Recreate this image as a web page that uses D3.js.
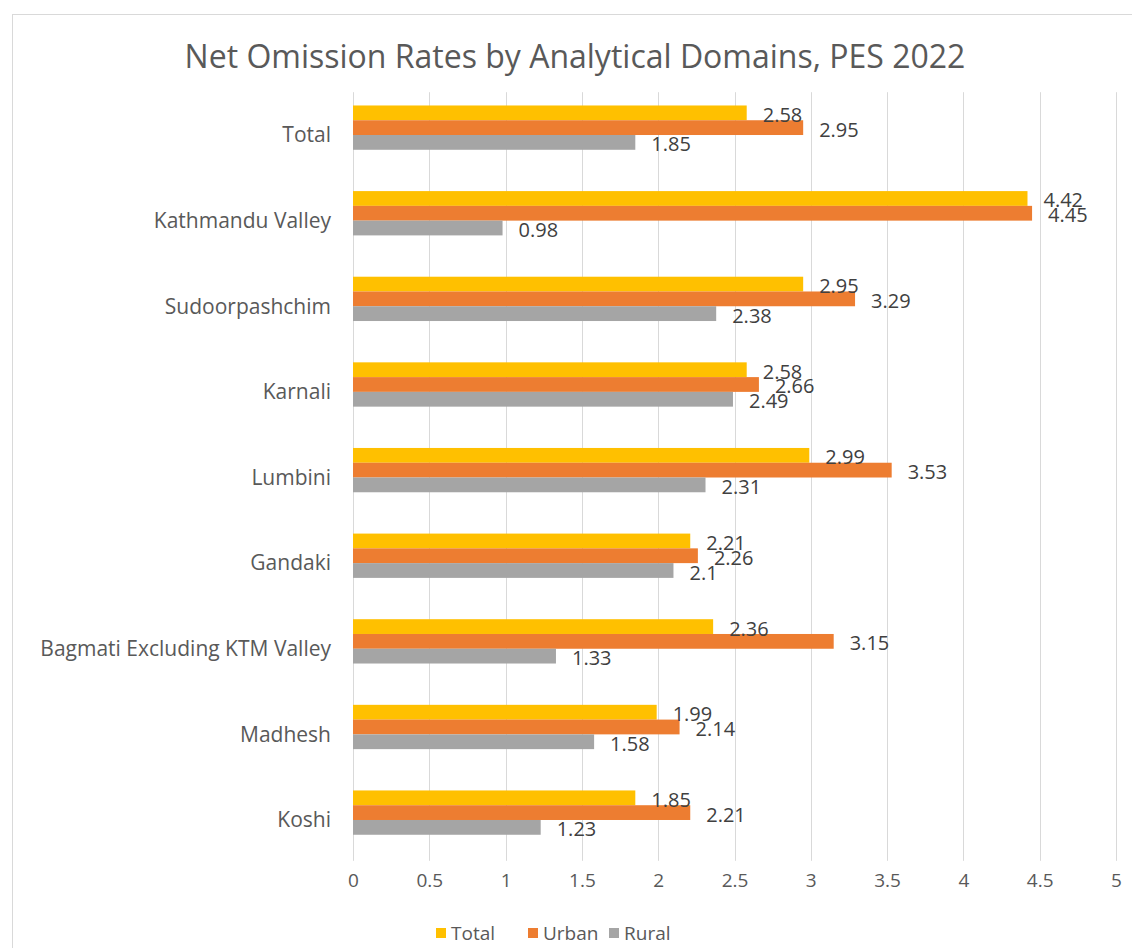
<!DOCTYPE html>
<html>
<head>
<meta charset="utf-8">
<script src="https://cdn.jsdelivr.net/npm/d3@7"></script>
<style>
  html, body { margin: 0; padding: 0; background: #fff; }
  svg text { font-family: "Open Sans", "Noto Sans", sans-serif; }
</style>
</head>
<body>
<svg id="chart" width="1132" height="948"></svg>
<script>
const title = "Net Omission Rates by Analytical Domains, PES 2022";
const categories = ["Total", "Kathmandu Valley", "Sudoorpashchim", "Karnali", "Lumbini", "Gandaki", "Bagmati Excluding KTM Valley", "Madhesh", "Koshi"];
const seriesNames = ["Total", "Urban", "Rural"];
const totalValues = [2.58, 4.42, 2.95, 2.58, 2.99, 2.21, 2.36, 1.99, 1.85];
const urbanValues = [2.95, 4.45, 3.29, 2.66, 3.53, 2.26, 3.15, 2.14, 2.21];
const ruralValues = [1.85, 0.98, 2.38, 2.49, 2.31, 2.10, 1.33, 1.58, 1.23];
const xTicks = [0, 0.5, 1, 1.5, 2, 2.5, 3, 3.5, 4, 4.5, 5];
const colors = ["#FFC000", "#ED7D31", "#A5A5A5"];

const seriesValues = [totalValues, urbanValues, ruralValues];
const svg = d3.select("#chart");

// outer chart border
svg.append("rect").attr("x", 12.5).attr("y", 14.5).attr("width", 1140).attr("height", 950)
  .attr("fill", "#fff").attr("stroke", "#D9D9D9");

const plotLeft = 353, plotRight = 1116, plotTop = 92.2, plotBottom = 862.8;

const x = d3.scaleLinear().domain([0, 5]).range([plotLeft, plotRight]);
const y = d3.scaleBand().domain(categories).range([plotTop, plotBottom]).paddingInner(0.31).paddingOuter(0.155);
// four slots per group: the three series plus one empty slot, as in the source
const ySub = d3.scaleBand().domain([...seriesNames, "_"]).range([0, y.bandwidth()]);

// title
svg.append("text").attr("x", 575).attr("y", 68).attr("text-anchor", "middle")
  .attr("font-size", 32).attr("fill", "#595959").text(title);

// gridlines
svg.append("g").selectAll("line").data(xTicks).join("line")
  .attr("x1", d => Math.round(x(d)) + 0.5).attr("x2", d => Math.round(x(d)) + 0.5)
  .attr("y1", plotTop).attr("y2", plotBottom - 2)
  .attr("stroke", "#D9D9D9").attr("stroke-width", 1);

// x axis labels
const xAxis = d3.axisBottom(x).tickValues(xTicks).tickSize(0).tickFormat(d3.format("~g"));
const gx = svg.append("g").attr("transform", `translate(0, ${plotBottom})`).call(xAxis);
gx.select(".domain").remove();
gx.selectAll("text").attr("font-size", 19).attr("fill", "#595959")
  .attr("font-family", "Open Sans").attr("dy", "0.35em").attr("y", 18);

// y axis labels
const yAxis = d3.axisLeft(y).tickSize(0);
const gy = svg.append("g").attr("transform", `translate(${plotLeft - 22}, 0)`).call(yAxis);
gy.select(".domain").remove();
gy.selectAll("text").attr("font-size", 21).attr("fill", "#595959")
  .attr("font-family", "Open Sans").attr("x", 0).attr("dy", "0.35em");

// bars
const groups = svg.append("g").selectAll("g").data(categories).join("g")
  .attr("transform", d => `translate(0, ${y(d)})`);

seriesNames.forEach((s, si) => {
  groups.append("rect")
    .attr("x", x(0))
    .attr("y", ySub(s))
    .attr("width", (d, i) => x(seriesValues[si][i]) - x(0))
    .attr("height", ySub.bandwidth())
    .attr("fill", colors[si]);
});
seriesNames.forEach((s, si) => {
  groups.append("text")
    .attr("x", (d, i) => x(seriesValues[si][i]) + 16)
    .attr("y", ySub(s) + ySub.bandwidth() / 2 + 2)
    .attr("dy", "0.35em")
    .attr("font-size", 20).attr("fill", "#404040")
    .text((d, i) => d3.format("~g")(seriesValues[si][i]));
});

// legend
const legendX = [436, 528, 609];
const lg = svg.append("g").selectAll("g").data(seriesNames).join("g")
  .attr("transform", (d, i) => `translate(${legendX[i]}, 933)`);
lg.append("rect").attr("x", 0).attr("y", -5).attr("width", 10).attr("height", 10)
  .attr("fill", (d, i) => colors[i]);
lg.append("text").attr("x", 15).attr("y", 0).attr("dy", "0.35em")
  .attr("font-size", 19).attr("fill", "#595959").text(d => d);
</script>
</body>
</html>
